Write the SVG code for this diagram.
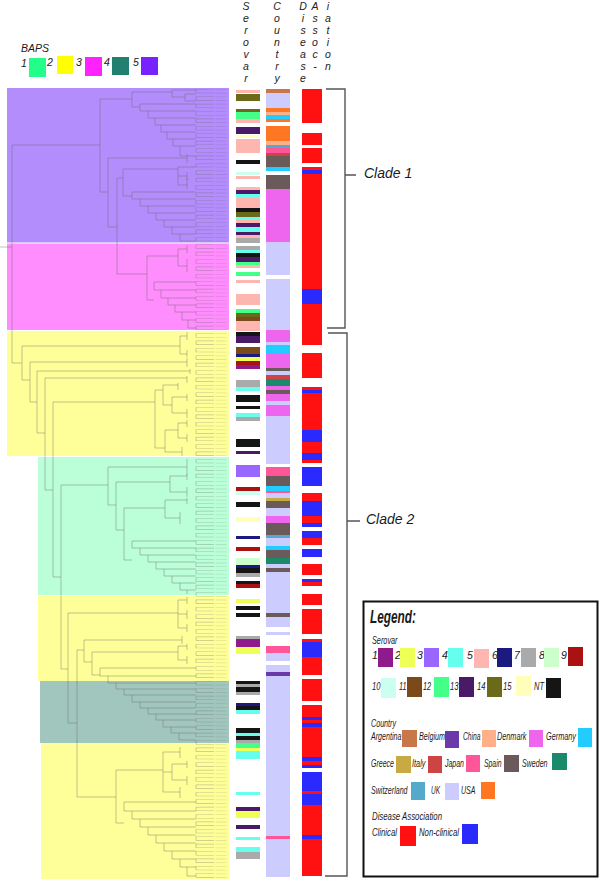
<svg xmlns="http://www.w3.org/2000/svg" width="600" height="879" viewBox="0 0 600 879">
<style>
text{font-family:"Liberation Sans",Arial,sans-serif;font-style:italic;fill:#1a1a1a}
.h{font-size:10.5px;text-anchor:middle;fill:#222}
.lt{font-family:"Liberation Sans Narrow","Liberation Sans",Arial,sans-serif;font-size:10.5px}
.tr{fill:none;stroke:#6a6a6a;stroke-width:0.7;stroke-opacity:0.6}
.br{fill:none;stroke:#555;stroke-width:1.4}
.s1{fill:#8e1a8c}.s2{fill:#eeff55}.s3{fill:#9966ff}.s4{fill:#66ffee}.s5{fill:#ffb6b0}.s6{fill:#1a1a80}.s7{fill:#aaaaaa}.s8{fill:#ccffcc}.s9{fill:#aa1111}.s10{fill:#ccfff0}.s11{fill:#7a4a1a}.s12{fill:#44ff88}.s13{fill:#4a1a66}.s14{fill:#6a6a1a}.s15{fill:#ffffbb}.nt{fill:#151515}
.arg{fill:#c87848}.bel{fill:#6a3aaa}.chn{fill:#ffb088}.den{fill:#ee66ee}.ger{fill:#22ccff}.gre{fill:#c8aa44}.ita{fill:#cc4444}.jpn{fill:#ff5599}.spa{fill:#6a5a5a}.swe{fill:#1a8a6a}.swi{fill:#55aacc}.uk{fill:#ccccff}.usa{fill:#ff7722}
.cl{fill:#ff1111}.nc{fill:#2a2aff}
</style>
<rect width="600" height="879" fill="#fff"/>

<g id="baps-legend">
<text x="21" y="52" font-size="10.5">BAPS</text>
<text x="21" y="67" font-size="10.5">1</text><rect x="29" y="58" width="17" height="19" fill="#22ff88"/>
<text x="47" y="66" font-size="10.5">2</text><rect x="57" y="56" width="16" height="18" fill="#ffff00"/>
<text x="76" y="66" font-size="10.5">3</text><rect x="85" y="57" width="17" height="19" fill="#ff22ff"/>
<text x="104" y="66" font-size="10.5">4</text><rect x="112" y="57" width="17" height="18" fill="#228070"/>
<text x="133" y="66" font-size="10.5">5</text><rect x="141" y="57" width="17" height="18" fill="#7722ff"/>
</g>

<g id="baps-regions">
<rect x="7" y="88" width="222" height="154.5" fill="#b38dfb"/>
<rect x="7" y="243.5" width="222" height="86.5" fill="#ff8dfd"/>
<rect x="7" y="331" width="222" height="125" fill="#ffff99"/>
<rect x="38" y="457" width="191" height="138" fill="#bbffd8"/>
<rect x="38" y="596" width="191" height="85" fill="#ffff99"/>
<rect x="40" y="681" width="189" height="62" fill="#a1c6bd"/>
<rect x="41" y="743" width="188" height="136" fill="#ffff99"/>
</g>

<g id="tree">
<line x1="205" y1="89" x2="205" y2="878" stroke="#6a6a6a" stroke-opacity="0.4" stroke-width="18" stroke-dasharray="0.6 3.1"/>
<line x1="196" y1="89.3" x2="196" y2="877" stroke="#6a6a6a" stroke-opacity="0.5" stroke-width="0.7" stroke-dasharray="3.7 3.7"/>
<line x1="221" y1="89" x2="221" y2="878" stroke="#444" stroke-opacity="0.14" stroke-width="11" stroke-dasharray="0.8 2.9"/>
<path class="tr" d="M0,247H12 M12,145V363 M12,145H100 M100,99V192 M100,99H132 M132,92V107
M132,92H172 M172,90V97 M172,90H196 M172,97H185 M185,94V101 M185,94H196 M185,101H196
M132,107H140 M140,104V111H148V118H155V125H161V132H167V139H173V146H180V156
M140,104H196 M148,111H196 M155,118H196 M161,125H196 M167,132H196 M173,139H196 M180,146H196 M180,156H196
M100,192H108 M108,158V227 M108,158H187 M187,154V163 M108,227H117 M117,178V274
M117,178H123 M123,169V196 M123,169H178 M178,167V185 M178,167H196 M178,185H187 M187,178V189 M178,176H187 M187,172V180
M123,196H132 M132,192V199H140V206H148V213H156V220H164V227H172V234H180V241
M132,192H196 M140,199H196 M148,206H196 M156,213H196 M164,220H196 M172,227H196 M180,234H196 M180,241H196
M117,274H147 M147,256V300 M147,256H178 M178,249V266 M178,249H187 M187,245V253 M178,266H187 M187,259V272
M147,300H154 M154,282V290H161V298H168V305H175V312H182V320H188V328
M154,282H196 M161,290H196 M168,298H196 M175,305H196 M182,312H196 M188,320H196 M188,328H196
M12,363H22 M22,346V380 M22,346H180 M180,336V354 M180,336H187 M187,332V340 M180,354H187 M187,350V357
M22,380H30 M30,362V402 M30,362H187 M187,358V367 M30,402H37 M37,371V433 M37,371H190 M190,369V374
M37,433H45 M45,378V490 M45,378H187 M187,376V383 M45,490H53 M53,402V577 M53,402H155 M155,390V448
M155,390H163 M163,385V405 M163,385H178 M178,383V390 M163,405H172 M172,397V413 M172,397H187 M187,394V401 M172,413H187 M187,409V418
M155,448H165 M165,430V452 M165,430H178 M178,423V438 M178,423H187 M187,420V427 M178,438H187 M187,434V442 M165,452H182 M182,447V456
M53,577H61 M61,485V669 M61,485H108 M108,467V505 M108,467H187 M187,459V475 M108,505H116 M116,482V530
M116,482H170 M170,476V492 M170,476H187 M187,474V480 M170,492H187 M187,487V497
M116,530H124 M124,508V560 M124,508H165 M165,500V518 M165,500H187 M187,498V504 M165,518H180 M180,512V524
M124,560H132 M132,541V548H140V555H148V562H156V569H164V576H172V583H180V590H187V594
M132,541H196 M140,548H196 M148,555H196 M156,562H196 M164,569H196 M172,576H196 M180,583H196 M187,590H196
M61,669H68 M68,613V723 M68,613H178 M178,600V628 M178,600H187 M187,597V604 M178,614H187 M187,610V619 M178,628H187 M187,624V632
M68,723H77 M77,650V797 M77,650H84 M84,640V662 M84,640H182 M182,636V644 M84,662H92 M92,652V675
M92,652H178 M178,646V660 M178,646H187 M187,644V650 M178,660H187 M187,656V664
M92,675H100 M100,668V676H108V683H116V689H124V695H132V702H140V708H148V714H156V720H163V727H171V733H179V740
M100,668H196 M108,676H196 M116,683H196 M124,689H196 M132,695H196 M140,702H196 M148,708H196 M156,714H196 M163,720H196 M171,727H196 M179,733H196 M179,740H196
M77,797H116 M116,770V823 M116,770H163 M163,752V792 M163,752H180 M180,747V758 M163,772H172 M172,764V780 M172,764H187 M187,761V768 M172,780H187 M187,776V785 M163,792H180 M180,787V798
M116,823H124 M124,802V811H132V819H140V827H148V835H156V843H164V851H172V859H180V867H187V876
M124,802H196 M132,811H196 M140,819H196 M148,827H196 M156,835H196 M164,843H196 M172,851H196 M180,859H196 M187,867H196 M187,876H196"/>
</g>

<g id="headers">
<text class="h"><tspan x="246" y="9.5">S</tspan><tspan x="246" y="21.7">e</tspan><tspan x="246" y="34">r</tspan><tspan x="246" y="46">o</tspan><tspan x="246" y="57.5">v</tspan><tspan x="246" y="69.5">a</tspan><tspan x="246" y="81.7">r</tspan></text>
<text class="h"><tspan x="277" y="9.5">C</tspan><tspan x="277" y="21.7">o</tspan><tspan x="277" y="34">u</tspan><tspan x="277" y="46">n</tspan><tspan x="277" y="57.5">t</tspan><tspan x="277" y="69.5">r</tspan><tspan x="277" y="81.7">y</tspan></text>
<text class="h"><tspan x="303" y="9.5">D</tspan><tspan x="303" y="21.7">i</tspan><tspan x="303" y="34">s</tspan><tspan x="303" y="46">e</tspan><tspan x="303" y="57.5">a</tspan><tspan x="303" y="69.5">s</tspan><tspan x="303" y="81.7">e</tspan></text>
<text class="h"><tspan x="315" y="9.5">A</tspan><tspan x="315" y="21.7">s</tspan><tspan x="315" y="34">s</tspan><tspan x="315" y="46">o</tspan><tspan x="315" y="57.5">c</tspan><tspan x="315" y="69.5">-</tspan></text>
<text class="h"><tspan x="328" y="9.5">i</tspan><tspan x="328" y="21.7">a</tspan><tspan x="328" y="34">t</tspan><tspan x="328" y="46">i</tspan><tspan x="328" y="57.5">o</tspan><tspan x="328" y="69.5">n</tspan></text>
</g>

<g id="serovar" transform="translate(236,0)">
<rect class="s5" y="90" width="24" height="3"/><rect class="s14" y="94" width="24" height="7"/><rect class="s14" y="109" width="24" height="3"/><rect class="s12" y="112" width="24" height="7"/><rect class="s5" y="119" width="24" height="4"/>
<rect class="s13" y="127" width="24" height="7"/><rect class="s15" y="135" width="24" height="3"/><rect class="s5" y="139" width="24" height="14"/><rect class="nt" y="160" width="24" height="4"/>
<rect class="s10" y="172" width="24" height="3"/><rect class="s5" y="176" width="24" height="3"/><rect class="s5" y="187" width="24" height="3"/><rect class="s13" y="190" width="24" height="4"/><rect class="s4" y="194" width="24" height="4"/>
<rect class="s5" y="198" width="24" height="10"/><rect class="nt" y="208" width="24" height="4"/><rect class="s14" y="212" width="24" height="5"/><rect class="s4" y="217" width="24" height="3"/><rect class="s5" y="220" width="24" height="3"/>
<rect class="s13" y="223" width="24" height="4"/><rect class="s4" y="227" width="24" height="5"/><rect class="s13" y="232" width="24" height="3"/><rect class="s5" y="235" width="24" height="3"/><rect class="s7" y="238" width="24" height="5"/>
<rect class="s7" y="246" width="24" height="4"/><rect class="s4" y="250" width="24" height="3"/><rect class="nt" y="253" width="24" height="4"/><rect class="s13" y="257" width="24" height="5"/><rect class="s12" y="262" width="24" height="3"/><rect class="s5" y="265" width="24" height="3"/>
<rect class="s12" y="272" width="24" height="4"/><rect class="s5" y="280" width="24" height="3"/><rect class="s5" y="294" width="24" height="11"/><rect class="s12" y="309" width="24" height="4"/><rect class="s14" y="313" width="24" height="4"/><rect class="s11" y="317" width="24" height="4"/><rect class="s5" y="321" width="24" height="10"/>
<rect class="nt" y="332" width="24" height="4"/><rect class="s13" y="336" width="24" height="7"/><rect class="s11" y="347" width="24" height="7"/><rect class="s6" y="354" width="24" height="3"/><rect class="s2" y="357" width="24" height="4"/><rect class="s9" y="361" width="24" height="4"/><rect class="s1" y="365" width="24" height="4"/>
<rect class="s7" y="380" width="24" height="7"/><rect class="s4" y="387" width="24" height="4"/><rect class="nt" y="395" width="24" height="7"/><rect class="nt" y="406" width="24" height="3"/><rect class="s4" y="413" width="24" height="4"/><rect class="s7" y="417" width="24" height="4"/>
<rect class="nt" y="439" width="24" height="8"/><rect class="s13" y="451" width="24" height="3"/><rect class="s3" y="465" width="24" height="12"/><rect class="s9" y="487" width="24" height="4"/><rect class="s10" y="491" width="24" height="4"/>
<rect class="nt" y="502" width="24" height="5"/><rect class="s15" y="517" width="24" height="5"/><rect class="s6" y="536" width="24" height="3"/><rect class="s9" y="547" width="24" height="4"/><rect class="s8" y="558" width="24" height="7"/><rect class="s6" y="565" width="24" height="3"/><rect class="nt" y="568" width="24" height="5"/><rect class="s7" y="573" width="24" height="4"/>
<rect class="nt" y="581" width="24" height="3"/><rect class="s9" y="584" width="24" height="4"/><rect class="s2" y="599" width="24" height="4"/><rect class="nt" y="606" width="24" height="4"/><rect class="nt" y="613" width="24" height="4"/>
<rect class="s7" y="636" width="24" height="3"/><rect class="s1" y="639" width="24" height="8"/><rect class="s2" y="647" width="24" height="7"/>
<rect class="nt" y="681" width="24" height="3"/><rect class="s7" y="684" width="24" height="3"/><rect class="nt" y="687" width="24" height="5"/><rect class="s7" y="692" width="24" height="3"/>
<rect class="s6" y="703" width="24" height="3"/><rect class="nt" y="706" width="24" height="4"/><rect class="s4" y="710" width="24" height="4"/>
<rect class="nt" y="728" width="24" height="5"/><rect class="s4" y="733" width="24" height="3"/><rect class="nt" y="736" width="24" height="4"/><rect class="s7" y="740" width="24" height="3"/><rect class="s12" y="743" width="24" height="5"/><rect class="s2" y="748" width="24" height="3"/><rect class="s4" y="751" width="24" height="8"/>
<rect class="s4" y="792" width="24" height="3"/><rect class="s13" y="807" width="24" height="4"/><rect class="s2" y="811" width="24" height="7"/><rect class="s13" y="825" width="24" height="4"/><rect class="s4" y="837" width="24" height="3"/><rect class="s4" y="847" width="24" height="5"/><rect class="s7" y="852" width="24" height="7"/>
</g>

<g id="country" transform="translate(266,0)">
<rect class="arg" y="89" width="24" height="4"/><rect class="uk" y="93" width="24" height="15"/><rect class="usa" y="108" width="24" height="4"/><rect class="chn" y="112" width="24" height="3"/><rect class="ger" y="115" width="24" height="4"/><rect class="usa" y="119" width="24" height="3"/>
<rect class="usa" y="126" width="24" height="15"/><rect class="chn" y="141" width="24" height="4"/><rect class="swi" y="145" width="24" height="3"/><rect class="jpn" y="148" width="24" height="5"/><rect class="ita" y="153" width="24" height="3"/><rect class="spa" y="156" width="24" height="11"/><rect class="ger" y="167" width="24" height="4"/>
<rect class="spa" y="175" width="24" height="14"/><rect class="den" y="189" width="24" height="53"/><rect class="uk" y="242" width="24" height="33"/><rect class="uk" y="279" width="24" height="51"/>
<rect class="den" y="330" width="24" height="12"/><rect class="uk" y="342" width="24" height="3"/><rect class="ger" y="345" width="24" height="8"/><rect class="den" y="353" width="24" height="15"/><rect class="spa" y="368" width="24" height="3"/><rect class="uk" y="371" width="24" height="4"/><rect class="ita" y="375" width="24" height="4"/><rect class="swe" y="379" width="24" height="7"/>
<rect class="den" y="386" width="24" height="4"/><rect class="spa" y="390" width="24" height="4"/><rect class="den" y="394" width="24" height="7"/><rect class="uk" y="401" width="24" height="4"/><rect class="den" y="405" width="24" height="11"/><rect class="uk" y="416" width="24" height="48"/>
<rect class="jpn" y="467" width="24" height="9"/><rect class="spa" y="476" width="24" height="10"/><rect class="ger" y="486" width="24" height="5"/><rect class="jpn" y="491" width="24" height="2"/><rect class="uk" y="493" width="24" height="5"/><rect class="gre" y="498" width="24" height="3"/><rect class="spa" y="501" width="24" height="7"/>
<rect class="uk" y="508" width="24" height="8"/><rect class="den" y="516" width="24" height="7"/><rect class="spa" y="523" width="24" height="12"/><rect class="swi" y="535" width="24" height="3"/><rect class="uk" y="538" width="24" height="8"/><rect class="ger" y="546" width="24" height="4"/><rect class="spa" y="550" width="24" height="8"/>
<rect class="swe" y="558" width="24" height="6"/><rect class="uk" y="564" width="24" height="4"/><rect class="spa" y="568" width="24" height="4"/><rect class="uk" y="572" width="24" height="41"/><rect class="spa" y="613" width="24" height="4"/><rect class="uk" y="617" width="24" height="10"/>
<rect class="uk" y="632" width="24" height="3"/><rect class="jpn" y="646" width="24" height="7"/><rect class="uk" y="653" width="24" height="8"/><rect class="uk" y="665" width="24" height="7"/><rect class="bel" y="672" width="24" height="4"/><rect class="uk" y="676" width="24" height="160"/><rect class="jpn" y="836" width="24" height="3"/><rect class="uk" y="839" width="24" height="38"/>
</g>

<g id="disease" transform="translate(302,0)">
<rect class="cl" y="89" width="20" height="34"/><rect class="cl" y="133" width="20" height="12"/><rect class="cl" y="148" width="20" height="15"/><rect class="cl" y="167" width="20" height="3"/><rect class="nc" y="170" width="20" height="4"/><rect class="cl" y="174" width="20" height="115"/><rect class="nc" y="289" width="20" height="15"/><rect class="cl" y="304" width="20" height="41"/>
<rect class="cl" y="353" width="20" height="25"/><rect class="cl" y="387" width="20" height="3"/><rect class="nc" y="390" width="20" height="3"/><rect class="cl" y="393" width="20" height="37"/><rect class="nc" y="430" width="20" height="12"/><rect class="cl" y="442" width="20" height="11"/><rect class="nc" y="453" width="20" height="7"/><rect class="cl" y="460" width="20" height="3"/>
<rect class="nc" y="467" width="20" height="19"/><rect class="cl" y="493" width="20" height="8"/><rect class="nc" y="501" width="20" height="15"/><rect class="cl" y="516" width="20" height="7"/><rect class="nc" y="523" width="20" height="4"/><rect class="nc" y="531" width="20" height="7"/><rect class="cl" y="538" width="20" height="7"/><rect class="nc" y="549" width="20" height="8"/>
<rect class="cl" y="564" width="20" height="11"/><rect class="nc" y="579" width="20" height="3"/><rect class="cl" y="582" width="20" height="4"/><rect class="cl" y="594" width="20" height="11"/><rect class="cl" y="609" width="20" height="25"/><rect class="cl" y="639" width="20" height="3"/><rect class="nc" y="642" width="20" height="15"/><rect class="cl" y="657" width="20" height="18"/>
<rect class="cl" y="679" width="20" height="22"/><rect class="cl" y="705" width="20" height="12"/><rect class="nc" y="717" width="20" height="3"/><rect class="cl" y="720" width="20" height="3"/><rect class="nc" y="723" width="20" height="4"/><rect class="cl" y="727" width="20" height="30"/><rect class="nc" y="757" width="20" height="4"/><rect class="cl" y="761" width="20" height="4"/><rect class="nc" y="765" width="20" height="3"/>
<rect class="nc" y="772" width="20" height="19"/><rect class="cl" y="791" width="20" height="3"/><rect class="nc" y="794" width="20" height="11"/><rect class="cl" y="805" width="20" height="30"/><rect class="nc" y="835" width="20" height="4"/><rect class="cl" y="839" width="20" height="37"/>
</g>

<g id="clades">
<path class="br" d="M326,89H345V328H327 M345,175H356"/>
<path class="br" d="M328,333H347V876H325 M347,521H360"/>
<text x="364" y="178" font-size="14">Clade 1</text>
<text x="366" y="524" font-size="14">Clade 2</text>
</g>

<g id="legend">
<rect x="363.5" y="601.5" width="234" height="275" fill="#fff" stroke="#111" stroke-width="2"/>
<text x="370" y="623" font-size="18" font-weight="bold" textLength="46" lengthAdjust="spacingAndGlyphs">Legend:</text>
<text class="lt" x="372" y="644" textLength="25.5" lengthAdjust="spacingAndGlyphs">Serovar</text>
<g class="lt">
<text x="372" y="659">1</text><text x="395" y="659">2</text><text x="417" y="659">3</text><text x="442" y="659">4</text><text x="467" y="659">5</text><text x="492" y="659">6</text><text x="514" y="659">7</text><text x="539" y="659">8</text><text x="561" y="659">9</text>
<text x="372" y="690" textLength="8.5" lengthAdjust="spacingAndGlyphs">10</text><text x="399" y="690" textLength="7.5" lengthAdjust="spacingAndGlyphs">11</text><text x="423" y="690" textLength="8" lengthAdjust="spacingAndGlyphs">12</text><text x="450" y="690" textLength="8.5" lengthAdjust="spacingAndGlyphs">13</text><text x="477" y="690" textLength="8.5" lengthAdjust="spacingAndGlyphs">14</text><text x="503" y="690" textLength="8.5" lengthAdjust="spacingAndGlyphs">15</text><text x="534" y="690" textLength="10" lengthAdjust="spacingAndGlyphs">NT</text>
</g>
<rect class="s1" x="378" y="648" width="15" height="19"/><rect class="s2" x="400" y="648" width="15" height="19"/><rect class="s3" x="424" y="648" width="15" height="19"/><rect class="s4" x="448" y="648" width="15" height="19"/><rect class="s5" x="474" y="649" width="15" height="19"/><rect class="s6" x="497" y="648" width="15" height="19"/><rect class="s7" x="521" y="648" width="15" height="19"/><rect class="s8" x="544" y="648" width="15" height="19"/><rect class="s9" x="568" y="647" width="15" height="19"/>
<rect class="s10" x="381" y="678" width="15" height="20"/><rect class="s11" x="407" y="677" width="15" height="20"/><rect class="s12" x="434" y="677" width="15" height="20"/><rect class="s13" x="459" y="677" width="15" height="20"/><rect class="s14" x="487" y="677" width="15" height="20"/><rect class="s15" x="516" y="676" width="15" height="20"/><rect class="nt" x="546" y="678" width="15" height="20"/>
<text class="lt" x="371" y="727" textLength="25" lengthAdjust="spacingAndGlyphs">Country</text>
<text class="lt" x="371" y="740" textLength="30.5" lengthAdjust="spacingAndGlyphs">Argentina</text><rect class="arg" x="402" y="730" width="15" height="17"/>
<text class="lt" x="419" y="740" textLength="26" lengthAdjust="spacingAndGlyphs">Belgium</text><rect class="bel" x="445" y="731" width="14" height="17"/>
<text class="lt" x="463" y="740" textLength="17.5" lengthAdjust="spacingAndGlyphs">China</text><rect class="chn" x="482" y="730" width="14" height="17"/>
<text class="lt" x="497" y="740" textLength="29.5" lengthAdjust="spacingAndGlyphs">Denmark</text><rect class="den" x="529" y="730" width="14" height="17"/>
<text class="lt" x="546" y="740" textLength="30" lengthAdjust="spacingAndGlyphs">Germany</text><rect class="ger" x="578" y="728" width="14" height="19"/>
<text class="lt" x="371" y="767" textLength="23" lengthAdjust="spacingAndGlyphs">Greece</text><rect class="gre" x="396" y="756" width="15" height="17"/>
<text class="lt" x="412" y="767" textLength="13.5" lengthAdjust="spacingAndGlyphs">Italy</text><rect class="ita" x="428" y="756" width="14" height="17"/>
<text class="lt" x="445" y="767" textLength="19" lengthAdjust="spacingAndGlyphs">Japan</text><rect class="jpn" x="466" y="755" width="14" height="17"/>
<text class="lt" x="484" y="767" textLength="17.5" lengthAdjust="spacingAndGlyphs">Spain</text><rect class="spa" x="504" y="755" width="15" height="17"/>
<text class="lt" x="522" y="767" textLength="25.5" lengthAdjust="spacingAndGlyphs">Sweden</text><rect class="swe" x="552" y="753" width="15" height="17"/>
<text class="lt" x="371" y="794" textLength="36.5" lengthAdjust="spacingAndGlyphs">Switzerland</text><rect class="swi" x="411" y="782" width="14" height="18"/>
<text class="lt" x="431" y="794" textLength="9" lengthAdjust="spacingAndGlyphs">UK</text><rect class="uk" x="445" y="783" width="14" height="17"/>
<text class="lt" x="461" y="794" textLength="14.5" lengthAdjust="spacingAndGlyphs">USA</text><rect class="usa" x="481" y="782" width="14" height="17"/>
<text class="lt" x="372" y="820" font-size="12" textLength="70" lengthAdjust="spacingAndGlyphs">Disease Association</text>
<text class="lt" x="372" y="836" font-size="12.5" textLength="25" lengthAdjust="spacingAndGlyphs">Clinical</text><rect class="cl" x="400" y="826" width="16" height="20"/>
<text class="lt" x="419" y="836" font-size="12.5" textLength="40" lengthAdjust="spacingAndGlyphs">Non-clinical</text><rect class="nc" x="462" y="824" width="16" height="20"/>
</g>
</svg>
